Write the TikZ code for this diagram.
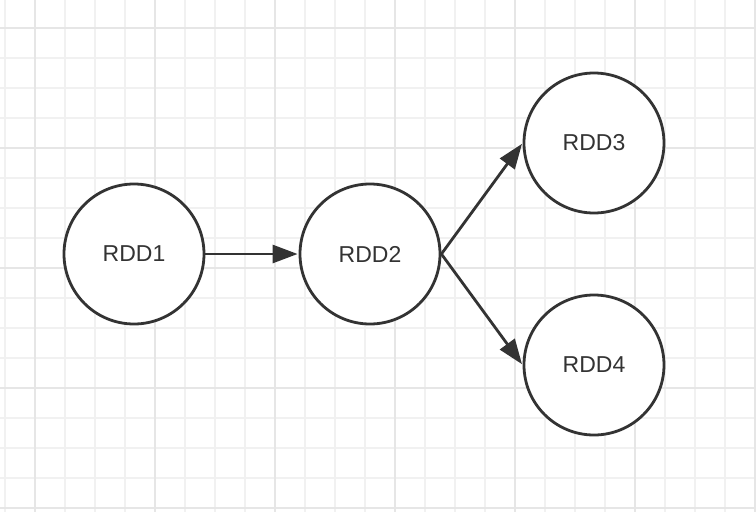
\documentclass[tikz,border=0pt]{standalone}
\usepackage{fontspec}
\setmainfont{Liberation Sans}
\usetikzlibrary{arrows.meta}
\definecolor{ink}{HTML}{333333}
\definecolor{gridminor}{HTML}{F1F1F1}
\definecolor{gridmajor}{HTML}{E6E6E6}
\tikzset{
  rdd/.style={circle, draw=ink, line width=2.8pt, minimum size=140pt, inner sep=0pt,
    text=ink, font=\fontsize{23}{26}\selectfont, fill=white},
  flow/.style={draw=ink, line width=2.8pt, -{Triangle[length=25pt,width=18pt]}, shorten >=1pt},
}
\begin{document}
\begin{tikzpicture}[x=1pt,y=-1pt]
\useasboundingbox (0,0) rectangle (756,512);
\fill[white] (0,0) rectangle (756,512);
% minor grid
\foreach \x in {5,35,...,755} \draw[gridminor, line width=1.6pt] (\x,0) -- (\x,512);
\foreach \y in {28,58,...,508} \draw[gridminor, line width=1.6pt] (0,\y) -- (756,\y);
% major grid
\foreach \x in {35,155,...,755} \draw[gridmajor, line width=1.6pt] (\x,0) -- (\x,512);
\foreach \y in {28,148,...,508} \draw[gridmajor, line width=1.6pt] (0,\y) -- (756,\y);

\node[rdd] (r1) at (134,254) {RDD1};
\node[rdd] (r2) at (370,254) {RDD2};
\node[rdd] (r3) at (594,143) {RDD3};
\node[rdd] (r4) at (594,365) {RDD4};

\draw[flow] (r1.east) -- (r2.west);
\draw[flow] (r2.east) -- (r3.west);
\draw[flow] (r2.east) -- (r4.west);
\end{tikzpicture}
\end{document}
